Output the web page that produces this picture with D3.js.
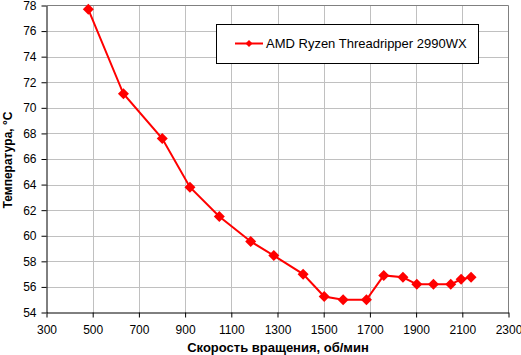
<!DOCTYPE html>
<html><head><meta charset="utf-8">
<script src="https://cdn.jsdelivr.net/npm/d3@7/dist/d3.min.js"></script>
<style>body{margin:0;background:#fff}svg{display:block}</style>
</head><body>
<svg id="c" width="521" height="355"></svg>
<script>
const seriesName = "AMD Ryzen Threadripper 2990WX";
const rpm  = [481, 633, 801, 921, 1048, 1184, 1284, 1411, 1502, 1584, 1685, 1760, 1843, 1903, 1975, 2050, 2095, 2138];
const temp = [77.7, 71.1, 67.6, 63.8, 61.5, 59.55, 58.45, 57.0, 55.25, 55.0, 55.0, 56.9, 56.75, 56.2, 56.2, 56.2, 56.6, 56.75];
const xTicks = [300, 500, 700, 900, 1100, 1300, 1500, 1700, 1900, 2100, 2300];
const yTicks = [54, 56, 58, 60, 62, 64, 66, 68, 70, 72, 74, 76, 78];
const xTitle = "Скорость вращения, об/мин";
const yTitle = "Температура, °C";

const svg = d3.select("#c");
const L = 46.5, R = 508.5, T = 5.5, B = 312.5;
const x = d3.scaleLinear().domain([300, 2300]).range([L, R]);
const y = d3.scaleLinear().domain([54, 78]).range([B, T]);
const font = "Arial, 'Liberation Sans', sans-serif";

// grid
const g = svg.append("g");
g.selectAll("line.v").data(xTicks.slice(1, -1)).enter().append("line")
  .attr("x1", d => Math.round(x(d)) + 0.5).attr("x2", d => Math.round(x(d)) + 0.5)
  .attr("y1", T).attr("y2", B).attr("stroke", "#c0c0c0");
g.selectAll("line.h").data(yTicks.slice(1, -1)).enter().append("line")
  .attr("y1", d => Math.round(y(d)) + 0.5).attr("y2", d => Math.round(y(d)) + 0.5)
  .attr("x1", L).attr("x2", R).attr("stroke", "#c0c0c0");
// top/right border
svg.append("path").attr("d", `M${L},${T}H${R}V${B}`).attr("fill", "none").attr("stroke", "#808080");

// axes
const ax = svg.append("g").attr("transform", `translate(0,${B})`)
  .call(d3.axisBottom(x).tickValues(xTicks).tickSize(5).tickSizeOuter(0).tickPadding(8).tickFormat(d3.format("d")));
const ay = svg.append("g").attr("transform", `translate(${L},0)`)
  .call(d3.axisLeft(y).tickValues(yTicks).tickSize(5).tickSizeOuter(0).tickPadding(5).tickFormat(d3.format("d")));
[ax, ay].forEach(a => {
  a.selectAll("path,line").attr("stroke", "#000");
  a.selectAll("text").attr("fill", "#000").style("font-family", font).style("font-size", "12px");
});

// line + markers
const pts = rpm.map((r, i) => [r, temp[i]]);
svg.append("path").datum(pts)
  .attr("d", d3.line().x(d => x(d[0])).y(d => y(d[1])))
  .attr("fill", "none").attr("stroke", "#ff0000").attr("stroke-width", 2);
const dia = s => `M0,${-s}L${s},0L0,${s}L${-s},0Z`;
svg.selectAll("path.m").data(pts).enter().append("path")
  .attr("transform", d => `translate(${x(d[0])},${y(d[1])})`)
  .attr("d", dia(5.5)).attr("fill", "#ff0000");

// titles
svg.append("text").attr("x", 278).attr("y", 352).attr("text-anchor", "middle")
  .style("font-family", font).style("font-size", "13px").style("font-weight", "bold").text(xTitle);
svg.append("text").attr("transform", "translate(12,160) rotate(-90)").attr("text-anchor", "middle")
  .style("font-family", font).style("font-size", "12px").style("font-weight", "bold").text(yTitle);

// legend
const lg = svg.append("g");
lg.append("rect").attr("x", 216.5).attr("y", 24.5).attr("width", 262).attr("height", 39)
  .attr("fill", "#fff").attr("stroke", "#000");
lg.append("line").attr("x1", 235).attr("x2", 263).attr("y1", 43.5).attr("y2", 43.5)
  .attr("stroke", "#ff0000").attr("stroke-width", 2);
lg.append("path").attr("transform", "translate(249,43.5)").attr("d", dia(3.5)).attr("fill", "#ff0000");
lg.append("text").attr("x", 266).attr("y", 48).style("font-family", font).style("font-size", "13px")
  .attr("fill", "#000").text(seriesName);
</script>
</body></html>
